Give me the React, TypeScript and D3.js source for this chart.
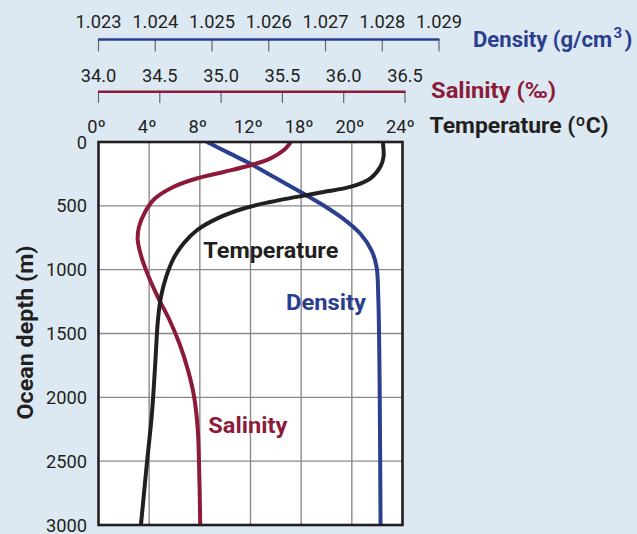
import React from "react";
import * as d3 from "d3";

// ---- data ----
const depthTicks = [0, 500, 1000, 1500, 2000, 2500, 3000];
const tempTicks = [0, 4, 8, 12, 16, 20, 24];
const tempTickLabels = ["0º", "4º", "8º", "12º", "18º", "20º", "24º"];
const salTicks = [34.0, 34.5, 35.0, 35.5, 36.0, 36.5];
const salTickLabels = ["34.0", "34.5", "35.0", "35.5", "36.0", "36.5"];
const densTicks = [1.023, 1.024, 1.025, 1.026, 1.027, 1.028, 1.029];
const densTickLabels = ["1.023", "1.024", "1.025", "1.026", "1.027", "1.028", "1.029"];

const tempDepth = [0, 117, 196, 286, 352, 391, 430, 470, 521, 600, 691, 795, 913, 1057, 1213, 1396, 1735, 2126, 2517, 3000];
const tempValues = [22.45, 22.5, 22.24, 21.45, 19.87, 17.76, 15.66, 13.56, 11.45, 9.35, 7.77, 6.71, 5.92, 5.34, 4.93, 4.69, 4.48, 4.22, 3.82, 3.35];

const salDepth = [0, 65, 130, 182, 235, 286, 352, 443, 548, 665, 769, 900, 1057, 1226, 1396, 1578, 1787, 1996, 2257, 2517, 3000];
const salValues = [35.57, 35.51, 35.40, 35.24, 35.02, 34.80, 34.61, 34.46, 34.38, 34.33, 34.32, 34.35, 34.41, 34.49, 34.58, 34.66, 34.73, 34.78, 34.81, 34.82, 34.83];

const densDepth = [0, 91, 169, 286, 404, 495, 600, 717, 848, 978, 1213, 1735, 2257, 3000];
const densValues = [1.02491, 1.02532, 1.02567, 1.02614, 1.02661, 1.02696, 1.02731, 1.02761, 1.02781, 1.0279, 1.02793, 1.02795, 1.02796, 1.02797];

// ---- styles ----
const BG = "#dde9f2";
const BLUE = "#2b3f8f";
const RED = "#8c1b3a";
const BLACK = "#231f20";
const FONT = "Roboto, 'Open Sans', sans-serif";

export default function App() {
  const W = 637, H = 534;
  const left = 98.5, right = 402.5, top = 142, bottom = 525;

  const y = d3.scaleLinear().domain([0, 3000]).range([top, bottom]);
  const xT = d3.scaleLinear().domain([0, 24]).range([left, right]);
  const xS = d3.scaleLinear().domain([34, 36.5]).range([left, 405]);
  const xD = d3.scaleLinear().domain([1.023, 1.029]).range([left, 439]);

  const mk = (xs: d3.ScaleLinear<number, number>, depth: number[], vals: number[]) =>
    d3.line<number>()
      .x((_, i) => xs(vals[i]))
      .y((dd) => y(dd))
      .curve(d3.curveCatmullRom.alpha(0.5))(depth) as string;

  const tempPath = mk(xT, tempDepth, tempValues);
  const salPath = mk(xS, salDepth, salValues);
  const densPath = mk(xD, densDepth, densValues);

  const densAxisY = 39.5, salAxisY = 91.7;
  const TF = 22.5;

  return (
    <svg width={W} height={H} style={{ position: "absolute", left: 0, top: 0 }} fontFamily={FONT}>
      <rect x={0} y={0} width={W} height={H} fill={BG} />
      <defs>
        <clipPath id="plotclip">
          <rect x={left} y={top} width={right - left} height={bottom - top} />
        </clipPath>
      </defs>

      {/* Density axis */}
      {densTicks.map((t, i) => (
        <g key={"dt" + i}>
          <line x1={xD(t)} x2={xD(t)} y1={densAxisY} y2={51.5} stroke="#666" strokeWidth={1.2} />
          <text x={xD(t)} y={28.3} textAnchor="middle" fontSize={18.3} fill={BLACK}>{densTickLabels[i]}</text>
        </g>
      ))}
      <line x1={xD(1.023) - 0.5} x2={xD(1.029) + 0.5} y1={densAxisY} y2={densAxisY} stroke={BLUE} strokeWidth={2.4} />
      <text x={473} y={46.7} fontSize={TF} fontWeight="bold" fill={BLUE} textLength={139} lengthAdjust="spacingAndGlyphs">Density (g/cm</text>
      <text x={613.5} y={37.5} fontSize={15} fontWeight="bold" fill={BLUE}>3</text>
      <text x={624.5} y={46.7} fontSize={TF} fontWeight="bold" fill={BLUE}>)</text>

      {/* Salinity axis */}
      {salTicks.map((t, i) => (
        <g key={"st" + i}>
          <line x1={xS(t)} x2={xS(t)} y1={salAxisY} y2={103} stroke="#666" strokeWidth={1.2} />
          <text x={xS(t)} y={81.5} textAnchor="middle" fontSize={18.3} fill={BLACK}>{salTickLabels[i]}</text>
        </g>
      ))}
      <line x1={xS(34) - 0.5} x2={xS(36.5) + 0.5} y1={salAxisY} y2={salAxisY} stroke={RED} strokeWidth={2.4} />
      <text x={431} y={98.3} fontSize={TF} fontWeight="bold" fill={RED} textLength={125} lengthAdjust="spacingAndGlyphs">Salinity (‰)</text>

      {/* Temperature tick labels */}
      {tempTicks.map((t, i) => (
        <text key={"tt" + i} x={xT(t) - 2} y={133.3} textAnchor="middle" fontSize={18.3} fill={BLACK}>{tempTickLabels[i]}</text>
      ))}
      <text x={429.5} y={133.3} fontSize={TF} fontWeight="bold" fill={BLACK} textLength={179} lengthAdjust="spacingAndGlyphs">Temperature (ºC)</text>

      {/* Plot area */}
      <rect x={left} y={top} width={right - left} height={bottom - top} fill="#ffffff" />
      {tempTicks.slice(1, -1).map((t, i) => (
        <line key={"vg" + i} x1={xT(t)} x2={xT(t)} y1={top} y2={bottom} stroke="#8a8a8a" strokeWidth={1.4} />
      ))}
      {depthTicks.slice(1, -1).map((d, i) => (
        <line key={"hg" + i} x1={left} x2={right} y1={y(d)} y2={y(d)} stroke="#8a8a8a" strokeWidth={1.4} />
      ))}

      <g clipPath="url(#plotclip)" fill="none" strokeWidth={4} strokeLinecap="butt">
        <path d={densPath} stroke={BLUE} />
        <path d={salPath} stroke={RED} />
        <path d={tempPath} stroke={BLACK} />
      </g>

      <rect x={left} y={top} width={right - left} height={bottom - top} fill="none" stroke={BLACK} strokeWidth={2.6} />

      {/* Depth axis labels */}
      {depthTicks.map((d, i) => (
        <text key={"dl" + i} x={87} y={y(d)} dy="0.36em" textAnchor="end" fontSize={18.3} fill={BLACK}>{d}</text>
      ))}
      <text transform="translate(33,332.5) rotate(-90)" textAnchor="middle" fontSize={TF} fontWeight="bold" fill={BLACK} textLength={174} lengthAdjust="spacingAndGlyphs">Ocean depth (m)</text>

      {/* In-plot labels */}
      <text x={203.3} y={258.3} fontSize={TF} fontWeight="bold" fill={BLACK} textLength={135} lengthAdjust="spacingAndGlyphs">Temperature</text>
      <text x={286} y={310} fontSize={TF} fontWeight="bold" fill={BLUE} textLength={80} lengthAdjust="spacingAndGlyphs">Density</text>
      <text x={208.3} y={433.3} fontSize={TF} fontWeight="bold" fill={RED} textLength={79} lengthAdjust="spacingAndGlyphs">Salinity</text>
    </svg>
  );
}
